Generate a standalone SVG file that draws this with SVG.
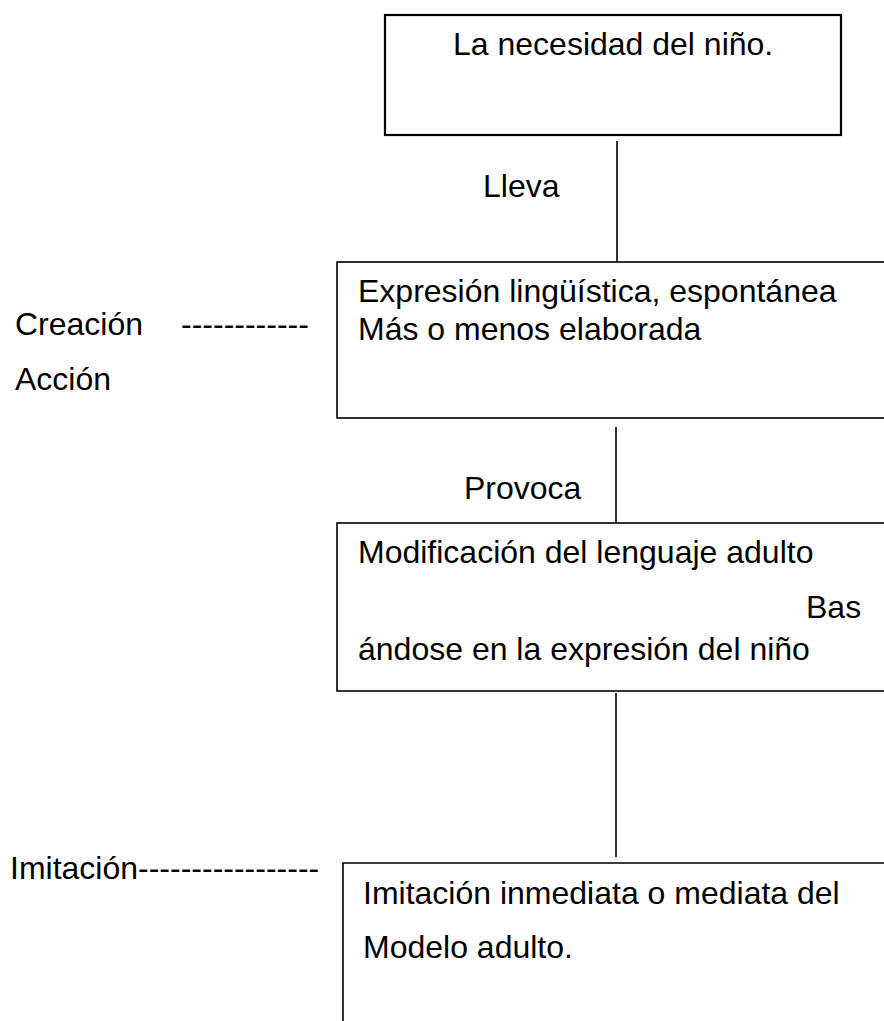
<svg xmlns="http://www.w3.org/2000/svg" width="884" height="1021" viewBox="0 0 884 1021">
<style>
text{font-family:"Liberation Sans",Arial,sans-serif;font-size:32px;fill:#000}
.box{fill:none;stroke:#000;stroke-width:1.6}
.conn line{stroke:#000;stroke-width:1.6}
</style>
<rect width="884" height="1021" fill="#fff"/>
<g id="node-necesidad">
<rect class="box" x="385" y="15" width="456" height="120" style="stroke-width:2.2"/>
<text x="453" y="55">La necesidad del niño.</text>
</g>
<g id="node-expresion">
<rect class="box" x="337" y="262" width="560" height="156"/>
<text x="358" y="302">Expresión lingüística, espontánea</text>
<text x="358" y="340">Más o menos elaborada</text>
</g>
<g id="node-modificacion">
<rect class="box" x="337" y="523" width="560" height="168"/>
<text x="358" y="563">Modificación del lenguaje adulto</text>
<text x="806" y="618">Bas</text>
<text x="358" y="660">ándose en la expresión del niño</text>
</g>
<g id="node-imitacion">
<path class="box" d="M343,1022 V863 H890"/>
<text x="363" y="904">Imitación inmediata o mediata del</text>
<text x="363" y="958">Modelo adulto.</text>
</g>
<g id="label-creacion">
<text x="15" y="335">Creación</text>
<text x="181" y="335">------------</text>
<text x="15" y="390">Acción</text>
</g>
<g id="label-imitacion">
<text x="10" y="879">Imitación-----------------</text>
</g>
<g id="connectors" class="conn">
<line x1="617" y1="141" x2="617" y2="262"/>
<line x1="616" y1="427" x2="616" y2="523"/>
<line x1="616" y1="693" x2="616" y2="857"/>
</g>
<g id="connector-labels">
<text x="483" y="197">Lleva</text>
<text x="464" y="499">Provoca</text>
</g>
</svg>
